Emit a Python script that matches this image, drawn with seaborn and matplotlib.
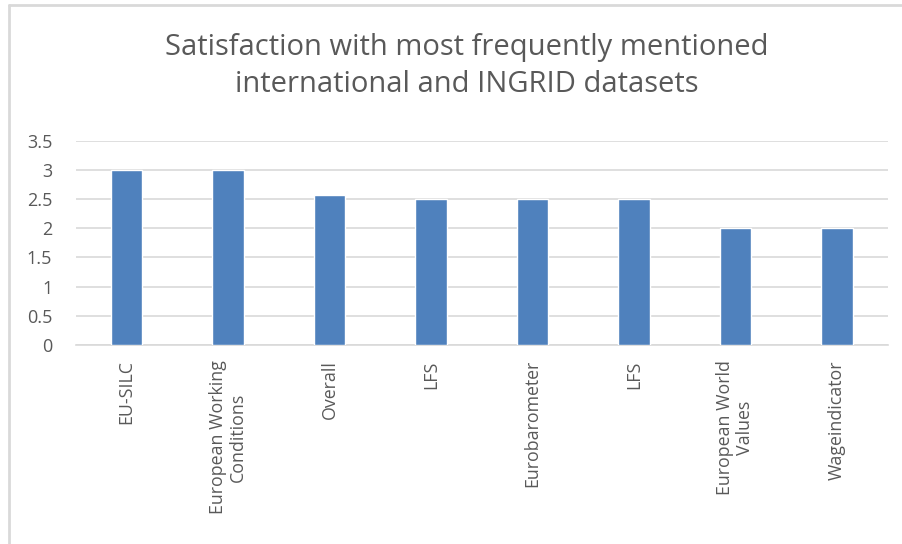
import pandas as pd
import numpy as np
import matplotlib
matplotlib.use("Agg")
import matplotlib.pyplot as plt
import seaborn as sns
from matplotlib.lines import Line2D

# data
datasets = ["EU-SILC", "European Working\nConditions", "Overall", "LFS",
            "Eurobarometer", "LFS", "European World\nValues", "Wageindicator"]
satisfaction = [3, 3, 2.58, 2.5, 2.5, 2.5, 2, 2]
yticks = [0, 0.5, 1, 1.5, 2, 2.5, 3, 3.5]
ytick_labels = ["0", "0.5", "1", "1.5", "2", "2.5", "3", "3.5"]

sns.set_style("white")
plt.rcParams['font.family'] = ['Open Sans', 'DejaVu Sans']

df = pd.DataFrame({"pos": range(len(datasets)), "value": satisfaction})

fig = plt.figure(figsize=(9.03, 5.44), dpi=100)
ax = fig.add_axes([0.084, 0.366, 0.899, 0.375])

sns.barplot(data=df, x="pos", y="value", color="#4F81BD", saturation=1,
            width=0.31, ax=ax, zorder=3)

ax.set_ylim(0, 3.5)
ax.set_yticks(yticks)
ax.set_yticklabels(ytick_labels, fontsize=13, color="#595959")
ax.set_xticks(range(len(datasets)))
ax.set_xticklabels(datasets, rotation=90, fontsize=12.8, color="#595959",
                   ha="center", va="top", multialignment="center",
                   linespacing=1.15)
ax.tick_params(axis="both", length=0)
ax.tick_params(axis="x", pad=11)
ax.tick_params(axis="y", pad=17)
ax.set_xlabel("")
ax.set_ylabel("")
ax.yaxis.grid(True, color="#D9D9D9", linewidth=1.2, zorder=0)
ax.set_axisbelow(True)
for s in ["top", "right", "left"]:
    ax.spines[s].set_visible(False)
ax.spines["bottom"].set_color("#D9D9D9")
ax.spines["bottom"].set_linewidth(1.2)

fig.suptitle("Satisfaction with most frequently mentioned\ninternational and INGRID datasets",
             x=0.517, y=0.94, fontsize=21, color="#595959", va="top",
             linespacing=1.4)

# outer chart frame (top and left only visible)
fig.add_artist(Line2D([9 / 903, 1], [1 - 5 / 544] * 2, color="#D9D9D9", lw=2,
                      transform=fig.transFigure))
fig.add_artist(Line2D([9 / 903] * 2, [0, 1 - 5 / 544], color="#D9D9D9", lw=2,
                      transform=fig.transFigure))

plt.savefig("out.png", dpi=100)
